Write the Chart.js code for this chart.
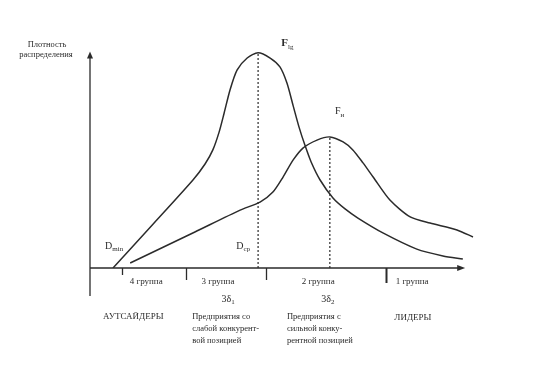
<!DOCTYPE html>
<html>
<head>
<meta charset="utf-8">
<script src="https://cdn.jsdelivr.net/npm/chart.js@4.4.1/dist/chart.umd.min.js"></script>
<style>
  body { margin: 0; background: #fff; }
  #wrap { width: 539px; height: 376px; position: relative; }
</style>
</head>
<body>
<div id="wrap"><canvas id="densityChart"></canvas></div>
<script>
// Кривая F_lg (логнормальное распределение)
const lgX = [5.9, 16.2, 26.4, 29.5, 31.5, 33.1, 34.4, 35.9, 37.7, 40.3, 43.1, 46.2, 48.7, 50.5, 52.1, 53.6, 55.1, 56.7, 59.0, 62.3, 65.4, 68.7, 75.1, 83.8, 90.5, 95.6];
const lgY = [0, 19.3, 38.6, 45.6, 51.8, 59.6, 68.0, 78.1, 86.8, 92.1, 94.4, 92.1, 88.2, 81.1, 71.1, 61.8, 53.9, 46.5, 38.6, 30.7, 25.9, 21.9, 15.4, 8.3, 5.3, 3.9];

// Кривая F_н (нормальное распределение)
const nX = [10.3, 26.9, 38.5, 43.6, 46.9, 49.5, 52.1, 54.6, 58.2, 61.5, 64.9, 67.4, 70.0, 72.6, 76.9, 82.1, 87.2, 94.1, 98.2];
const nY = [2.2, 15.8, 25.4, 28.9, 33.3, 39.9, 47.4, 52.6, 56.1, 57.5, 55.3, 51.8, 46.1, 39.9, 29.8, 22.4, 19.7, 16.7, 13.6];

// Вершины кривых (пунктирные линии)
const peakLg = { x: 43.1, y: 94.4 };
const peakN = { x: 61.5, y: 57.5 };

// Границы групп на оси и подписи
const groupBounds = [8.2, 24.6, 45.1, 75.9];
const groupLabels = ['4 группа', '3 группа', '2 группа', '1 группа'];
const groupLabelX = [14.4, 32.8, 58.5, 82.6];

const toPoints = (xs, ys) => xs.map((x, i) => ({ x: x, y: ys[i] }));

const ink = '#2b2b2b';
const serif = '"Liberation Serif", "DejaVu Serif", serif';

// Рисуем оси, стрелки и подписи
const schemePlugin = {
    id: 'scheme',
    afterDatasetsDraw(chart) {
        const { ctx, scales: { x, y } } = chart;
        const x0 = x.getPixelForValue(0);
        const y0 = y.getPixelForValue(0);
        const xEnd = x.getPixelForValue(96.2);
        const yTop = y.getPixelForValue(95);

        ctx.save();
        ctx.strokeStyle = ink;
        ctx.fillStyle = ink;
        ctx.lineWidth = 1.3;

        // оси
        ctx.beginPath();
        ctx.moveTo(x0, y0 + 28);
        ctx.lineTo(x0, yTop + 4);
        ctx.moveTo(x0, y0);
        ctx.lineTo(xEnd - 5, y0);
        ctx.stroke();

        // стрелки
        ctx.beginPath();
        ctx.moveTo(x0, yTop);
        ctx.lineTo(x0 - 3, yTop + 7);
        ctx.lineTo(x0 + 3, yTop + 7);
        ctx.closePath();
        ctx.fill();
        ctx.beginPath();
        ctx.moveTo(xEnd, y0);
        ctx.lineTo(xEnd - 8, y0 - 3);
        ctx.lineTo(xEnd - 8, y0 + 3);
        ctx.closePath();
        ctx.fill();

        // границы групп
        const tickLen = [7, 12, 12, 15];
        groupBounds.forEach((v, i) => {
            const px = Math.round(x.getPixelForValue(v)) + 0.5;
            ctx.lineWidth = i === 3 ? 2 : 1.3;
            ctx.beginPath();
            ctx.moveTo(px, y0);
            ctx.lineTo(px, y0 + tickLen[i]);
            ctx.stroke();
        });

        ctx.textBaseline = 'middle';
        ctx.textAlign = 'center';

        // подписи групп
        ctx.font = '9px ' + serif;
        groupLabels.forEach((t, i) => {
            ctx.fillText(t, x.getPixelForValue(groupLabelX[i]), y0 + 14);
        });

        // текст с нижним индексом
        const sub = (base, s, px, py, bf, sf, bold) => {
            ctx.font = (bold ? 'bold ' : '') + bf + 'px ' + serif;
            const w = ctx.measureText(base).width;
            ctx.font = sf + 'px ' + serif;
            const ws = ctx.measureText(s).width;
            const left = px - (w + ws) / 2;
            ctx.textAlign = 'left';
            ctx.font = (bold ? 'bold ' : '') + bf + 'px ' + serif;
            ctx.fillText(base, left, py);
            ctx.font = sf + 'px ' + serif;
            ctx.fillText(s, left + w, py + bf * 0.3);
            ctx.textAlign = 'center';
        };
        sub('3δ', '1', x.getPixelForValue(35.4), y0 + 31, 10, 7);
        sub('3δ', '2', x.getPixelForValue(61.0), y0 + 31, 10, 7);

        // подписи кривых и точек
        sub('F', 'lg', x.getPixelForValue(50.6), y.getPixelForValue(98.5), 11, 7, true);
        sub('F', 'н', x.getPixelForValue(64.0), y.getPixelForValue(68.5), 10, 7);
        sub('D', 'min', x.getPixelForValue(6.2), y0 - 22, 10, 7);
        sub('D', 'ср', x.getPixelForValue(39.3), y0 - 22, 10, 7);

        // ось Y
        ctx.font = '8.5px ' + serif;
        ctx.fillText('Плотность', 47, 45);
        ctx.fillText('распределения', 46, 55);

        // категории предприятий
        ctx.font = '9px ' + serif;
        ctx.fillText('АУТСАЙДЕРЫ', x.getPixelForValue(11.1), y0 + 49);
        ctx.fillText('ЛИДЕРЫ', x.getPixelForValue(82.8), y0 + 50);
        ctx.textAlign = 'left';
        ctx.font = '8.5px ' + serif;
        const weak = ['Предприятия со', 'слабой конкурент-', 'вой позицией'];
        const strong = ['Предприятия с', 'сильной конку-', 'рентной позицией'];
        weak.forEach((t, i) => ctx.fillText(t, x.getPixelForValue(26.2), y0 + 49 + i * 12));
        strong.forEach((t, i) => ctx.fillText(t, x.getPixelForValue(50.5), y0 + 49 + i * 12));

        ctx.restore();
    }
};

const curveStyle = {
    borderColor: ink,
    borderWidth: 1.5,
    pointRadius: 0,
    fill: false,
    tension: 0.25
};

const dotStyle = {
    borderColor: ink,
    borderWidth: 1.2,
    borderDash: [2, 2],
    pointRadius: 0,
    fill: false
};

const ctx = document.getElementById('densityChart').getContext('2d');
const densityChart = new Chart(ctx, {
    type: 'line',
    data: {
        datasets: [
            Object.assign({ label: 'F_lg', data: toPoints(lgX, lgY) }, curveStyle),
            Object.assign({ label: 'F_н', data: toPoints(nX, nY) }, curveStyle),
            Object.assign({ label: 'D_ср', data: [{ x: peakLg.x, y: 0 }, peakLg] }, dotStyle),
            Object.assign({ label: 'peak_н', data: [{ x: peakN.x, y: 0 }, peakN] }, dotStyle)
        ]
    },
    options: {
        responsive: true,
        maintainAspectRatio: false,
        animation: false,
        events: [],
        layout: {
            padding: { left: 90, right: 59, top: 40, bottom: 108 }
        },
        plugins: {
            legend: { display: false },
            tooltip: { enabled: false }
        },
        scales: {
            x: { type: 'linear', min: 0, max: 100, display: false },
            y: { type: 'linear', min: 0, max: 100, display: false }
        }
    },
    plugins: [schemePlugin]
});
</script>
</body>
</html>
